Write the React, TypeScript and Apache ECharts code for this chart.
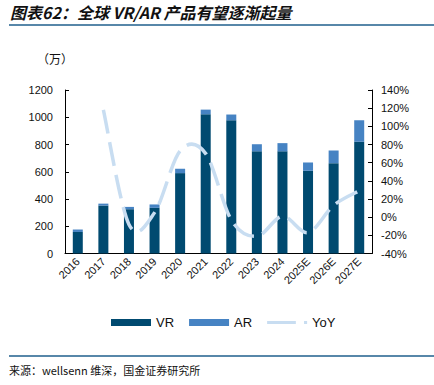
import React, { useEffect, useRef } from "react";
import * as echarts from "echarts";

const categories = ["2016", "2017", "2018", "2019", "2020", "2021", "2022", "2023", "2024", "2025E", "2026E", "2027E"];
const vrValues = [158, 352, 325, 335, 590, 1022, 978, 750, 750, 607, 663, 820];
const arValues = [18, 14, 17, 25, 32, 34, 42, 52, 60, 61, 93, 158];
const yoyValues: (number | null)[] = [null, 118, -8, 5, 73, 70, -3, -21, 1, -17, 13, 29];
const leftTicks = { min: 0, max: 1200, interval: 200 };
const rightTicks = { min: -40, max: 140, interval: 20 };

const LINE_COLOR = "#c8ddf1";

export default function App() {
  const ref = useRef<HTMLDivElement>(null);
  useEffect(() => {
    if (!ref.current) return;
    const chart = echarts.init(ref.current, undefined, { renderer: "svg" });
    const axisFont = { fontFamily: "Liberation Sans", fontSize: 11, color: "#111" };
    const yoyData = yoyValues
      .map((v, i) => (v === null ? null : [i, v]))
      .filter((d) => d !== null) as number[][];

    chart.setOption({
      animation: false,
      backgroundColor: "#fff",
      grid: { left: 65, right: 62, top: 90, bottom: 131.5, containLabel: false },
      graphic: [
        {
          type: "text",
          left: 10,
          top: 4,
          style: {
            text: "图表62：全球 VR/AR 产品有望逐渐起量",
            font: "italic bold 16px 'Noto Sans CJK SC'",
            fill: "#111",
          },
        },
        { type: "line", shape: { x1: 9, y1: 25, x2: 434, y2: 25 }, style: { stroke: "#1f5f8c", lineWidth: 1.5 } },
        {
          type: "text",
          left: 37,
          top: 52,
          style: { text: "（万）", font: "12px 'Noto Sans CJK SC'", fill: "#111" },
        },
        { type: "line", shape: { x1: 9, y1: 356, x2: 434, y2: 356 }, style: { stroke: "#1f5f8c", lineWidth: 1.5 } },
        {
          type: "text",
          left: 9,
          top: 364,
          style: { text: "来源：wellsenn 维深，国金证券研究所", font: "11px 'Noto Sans CJK SC'", fill: "#111" },
        },
      ],
      legend: {
        top: 311,
        left: 106,
        itemWidth: 40,
        itemHeight: 7,
        itemGap: 15,
        textStyle: { fontFamily: "Liberation Sans", fontSize: 13, color: "#111" },
        data: [
          { name: "VR", icon: "rect" },
          { name: "AR", icon: "rect" },
          {
            name: "YoY",
            icon: "path://M0,0h28v3h-28z M36,0h3v3h-3z",
            itemStyle: { color: LINE_COLOR },
          },
        ],
      },
      xAxis: {
        type: "category",
        data: categories,
        axisLine: { lineStyle: { color: "#000", width: 1 } },
        axisTick: { inside: true, length: 4, lineStyle: { color: "#000" } },
        axisLabel: { ...axisFont, rotate: 45, margin: 6, interval: 0 },
      },
      yAxis: [
        {
          type: "value",
          ...leftTicks,
          splitLine: { show: false },
          axisLine: { show: true, lineStyle: { color: "#000" } },
          axisTick: { show: true, inside: true, length: 4, lineStyle: { color: "#000" } },
          axisLabel: { ...axisFont, margin: 12, formatter: (v: number) => String(v) },
        },
        {
          type: "value",
          ...rightTicks,
          splitLine: { show: false },
          axisLine: { show: true, lineStyle: { color: "#000" } },
          axisTick: { show: true, inside: true, length: 4, lineStyle: { color: "#000" } },
          axisLabel: { ...axisFont, margin: 9, formatter: "{value}%" },
        },
      ],
      series: [
        {
          name: "VR",
          type: "bar",
          stack: "total",
          data: vrValues,
          barWidth: 10,
          itemStyle: { color: "#004a70" },
        },
        {
          name: "AR",
          type: "bar",
          stack: "total",
          data: arValues,
          barWidth: 10,
          itemStyle: { color: "#4683c3" },
        },
        {
          name: "YoY",
          type: "custom",
          yAxisIndex: 1,
          data: yoyData,
          encode: { x: 0, y: 1 },
          itemStyle: { color: LINE_COLOR },
          z: 5,
          renderItem: (params: any, api: any) => {
            if (params.dataIndex !== 0) return null;
            const pts = yoyData.map((d) => api.coord([d[0], d[1]]));
            const n = pts.length;
            let d = `M${pts[0][0]},${pts[0][1]}`;
            for (let i = 0; i < n - 1; i++) {
              const p0 = pts[Math.max(i - 1, 0)];
              const p1 = pts[i];
              const p2 = pts[i + 1];
              const p3 = pts[Math.min(i + 2, n - 1)];
              const c1x = p1[0] + (p2[0] - p0[0]) / 6;
              const c1y = p1[1] + (p2[1] - p0[1]) / 6;
              const c2x = p2[0] - (p3[0] - p1[0]) / 6;
              const c2y = p2[1] - (p3[1] - p1[1]) / 6;
              d += ` C${c1x},${c1y} ${c2x},${c2y} ${p2[0]},${p2[1]}`;
            }
            return {
              type: "path",
              shape: { pathData: d },
              style: { fill: "none", stroke: LINE_COLOR, lineWidth: 3.5, lineDash: [24, 9] },
            };
          },
        },
      ],
    });
    return () => chart.dispose();
  }, []);
  return <div ref={ref} style={{ position: "fixed", left: 0, top: 0, width: 434, height: 385 }} />;
}
